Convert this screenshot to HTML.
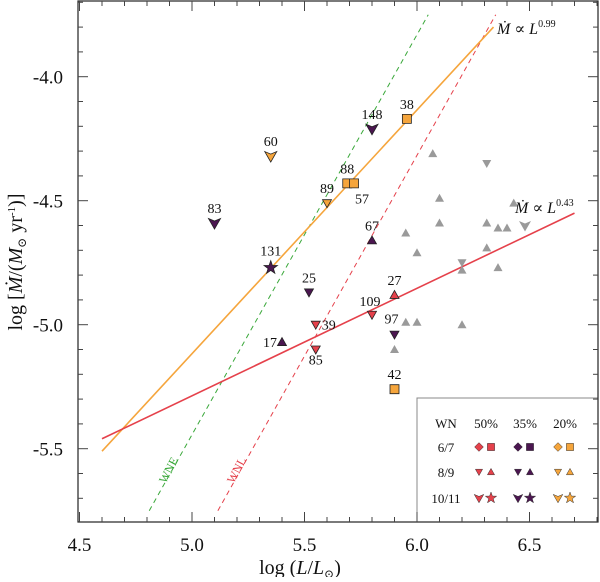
<!DOCTYPE html>
<html><head><meta charset="utf-8"><style>
body{margin:0;background:#fff}
svg text{font-family:"Liberation Serif","DejaVu Serif",serif;fill:#111}
</style></head><body>
<svg id="chart" width="600" height="577" viewBox="0 0 600 577" xmlns="http://www.w3.org/2000/svg" font-family="Liberation Serif, DejaVu Serif, serif"></svg>
<script>
const xTicks=[4.5,5.0,5.5,6.0,6.5];
const yTicks=[-4.0,-4.5,-5.0,-5.5];
const xTickLabels=["4.5","5.0","5.5","6.0","6.5"];
const yTickLabels=["-4.0","-4.5","-5.0","-5.5"];
const starIds=["60","83","131","148","38","88","57","89","67","25","27","109","39","85","97","42","17"];
const starL=[5.35,5.10,5.35,5.80,5.955,5.69,5.72,5.60,5.80,5.52,5.90,5.80,5.55,5.55,5.90,5.90,5.40];
const starM=[-4.32,-4.59,-4.77,-4.21,-4.17,-4.43,-4.43,-4.51,-4.66,-4.87,-4.88,-4.96,-5.00,-5.10,-5.04,-5.26,-5.07];
const starGroup=["o","p","p","p","o","o","o","o","p","p","r","r","r","r","p","o","p"];
const starShape=["arrow","arrow","star","arrow","square","square","square","down","up","down","up","down","down","down","down","square","up"];
const grayUpL=[6.07,6.10,6.10,5.95,6.00,6.31,6.31,6.36,6.40,6.43,6.36,6.20,5.95,6.00,6.20,5.90];
const grayUpM=[-4.31,-4.49,-4.59,-4.63,-4.71,-4.69,-4.59,-4.61,-4.61,-4.51,-4.77,-4.78,-4.99,-4.99,-5.00,-5.10];
const grayDownL=[6.31,6.20];
const grayDownM=[-4.35,-4.75];
const grayArrowL=[6.48];
const grayArrowM=[-4.60];
const fit099=[[4.6,-5.51],[6.34,-3.80]];
const fit043=[[4.6,-5.46],[6.70,-4.55]];
const wneLine=[[4.81,-5.75],[6.05,-3.75]];
const wnlLine=[[5.115,-5.75],[6.35,-3.75]];

const X0=78,X1=598,Y0=1,Y1=522;
const xs=v=>192+(v-5)*225;
const ys=v=>76.7+(-4-v)*248;
const col={r:"#e5414b",p:"#4b1650",o:"#f5a53c",g:"#9a9a9a"};
const NS="http://www.w3.org/2000/svg";
const svg=document.getElementById('chart');
function mk(tag,attrs,parent){const e=document.createElementNS(NS,tag);for(const k in attrs)e.setAttribute(k,attrs[k]);(parent||svg).appendChild(e);return e;}
function shapePath(s,sz){
  const k=sz||1;
  if(s==="down")return `M${-4.5*k},${-3.5*k} L${4.5*k},${-3.5*k} L0,${4.5*k} Z`;
  if(s==="up")return `M${-4.5*k},${3.5*k} L${4.5*k},${3.5*k} L0,${-4.5*k} Z`;
  if(s==="arrow")return `M${-6*k},${-4.5*k} L0,${-2*k} L${6*k},${-4.5*k} L0,${6*k} Z`;
  if(s==="square")return `M${-4.5*k},${-4.5*k} H${4.5*k} V${4.5*k} H${-4.5*k} Z`;
  if(s==="diamond")return `M0,${-5.5*k} L${5.5*k},0 L0,${5.5*k} L${-5.5*k},0 Z`;
  if(s==="star"){let p="";for(let i=0;i<10;i++){const r=(i%2?2.8:7*k/k)*k,a=-Math.PI/2+i*Math.PI/5;p+=(i?"L":"M")+(r*Math.cos(a)).toFixed(2)+","+(r*Math.sin(a)).toFixed(2);}return p+"Z";}
}
const gl=mk('g',{});


function ln(pts,color,dash,name){const l=mk('line',{x1:xs(pts[0][0]),y1:ys(pts[0][1]),x2:xs(pts[1][0]),y2:ys(pts[1][1]),stroke:color,'stroke-width':dash?1:1.6,'stroke-dasharray':dash?"5,4":"none"},gl);

}
ln(wneLine,"#3aa83a",true,"wne-line");
ln(wnlLine,"#e5414b",true,"wnl-line");
ln(fit099,"#f5a53c",false,"fit-line-099");
ln(fit043,"#e5414b",false,"fit-line-043");
function pt(L,M,shape,fill,stroke,name,sz){const p=mk('path',{d:shapePath(shape,sz),transform:`translate(${xs(L)},${ys(M)})`,fill:fill,stroke:stroke,'stroke-width':0.8});

return p;}
grayUpL.forEach((L,i)=>pt(L,grayUpM[i],"up",col.g,"none","gray-point-up"));
grayDownL.forEach((L,i)=>pt(L,grayDownM[i],"down",col.g,"none","gray-point-down"));
grayArrowL.forEach((L,i)=>pt(L,grayArrowM[i],"arrow",col.g,"none","gray-point-arrow"));
const labelOff={"57":[8,20],"85":[0,15],"39":[13,5],"17":[-12,5],"109":[-2,-9],"97":[-3,-11],"60":[0,-10],"83":[0,-10],"131":[0,-12]};
starIds.forEach((id,i)=>{
  const x=xs(starL[i]),y=ys(starM[i]);
  pt(starL[i],starM[i],starShape[i],col[starGroup[i]],"#222","wr-star-"+id);
  const o=labelOff[id]||[0,-10];
  const t=mk('text',{x:x+o[0],y:y+o[1],'text-anchor':'middle','font-size':14});
  t.textContent=id;
  
  
});
function txt(x,y,s,fs,name,extra){const t=mk('text',Object.assign({x:x,y:y,'font-size':fs},extra||{}));t.innerHTML=s;

return t;}
txt(497,34,'<tspan font-style="italic">Ṁ</tspan> ∝ <tspan font-style="italic">L</tspan><tspan font-size="10" dy="-7">0.99</tspan>',16,'annotation-099');
txt(515,213,'<tspan font-style="italic">Ṁ</tspan> ∝ <tspan font-style="italic">L</tspan><tspan font-size="10" dy="-7">0.43</tspan>',16,'annotation-043');
txt(172,472,'WNE',12,'wne-label',{'text-anchor':'middle',transform:'rotate(-62 172 472)',style:'fill:#3aa83a'});
txt(240,472,'WNL',12,'wnl-label',{'text-anchor':'middle',transform:'rotate(-62 240 472)',style:'fill:#e5414b'});
const lg=mk('g',{});


mk('rect',{x:417,y:398,width:181,height:124,fill:'#fff',stroke:'#888','stroke-width':1},lg);
const lgCols=["50%","35%","20%"],lgColX=[486,525,565],lgGroups=["r","p","o"];
const lgRows=["6/7","8/9","10/11"],lgRowY=[447,472,498];
const lgShapes=[["diamond","square"],["down","up"],["arrow","star"]];
const t0=mk('text',{x:446,y:428,'text-anchor':'middle','font-size':13},lg);t0.textContent="WN";
lgCols.forEach((c,i)=>{const t=mk('text',{x:lgColX[i],y:428,'text-anchor':'middle','font-size':13},lg);t.textContent=c;});
lgRows.forEach((r,j)=>{const t=mk('text',{x:446,y:lgRowY[j]+5,'text-anchor':'middle','font-size':13},lg);t.textContent=r;
  lgGroups.forEach((g,i)=>{lgShapes[j].forEach((s,k)=>{mk('path',{d:shapePath(s,s==="star"?0.85:0.8),transform:`translate(${lgColX[i]-7+k*12},${lgRowY[j]})`,fill:col[g],stroke:'#333','stroke-width':0.5},lg);});});
});
const ax=mk('g',{});


mk('rect',{x:X0,y:Y0,width:X1-X0,height:Y1-Y0,fill:'none',stroke:'#222','stroke-width':1.2},ax);
for(let v=4.5;v<=6.81;v+=0.1){const x=xs(v);const major=Math.abs(v*2-Math.round(v*2))<1e-6;const L=major?10:5;
  if(x<X0+1||x>X1-1)continue;
  mk('line',{x1:x,y1:Y1,x2:x,y2:Y1-L,stroke:'#444'},ax);mk('line',{x1:x,y1:Y0,x2:x,y2:Y0+L,stroke:'#444'},ax);}
for(let v=-5.8;v<=-3.69;v+=0.1){const y=ys(v);const major=Math.abs(v*2-Math.round(v*2))<1e-6;const L=major?10:5;
  if(y<Y0+1||y>Y1-1)continue;
  mk('line',{x1:X0,y1:y,x2:X0+L,y2:y,stroke:'#444'},ax);mk('line',{x1:X1,y1:y,x2:X1-L,y2:y,stroke:'#444'},ax);}
xTicks.forEach((v,i)=>{const t=mk('text',{x:xs(v),y:551,'text-anchor':'middle','font-size':19},ax);t.textContent=xTickLabels[i];});
yTicks.forEach((v,i)=>{const t=mk('text',{x:63,y:ys(v)+7,'text-anchor':'end','font-size':19},ax);t.textContent=yTickLabels[i];});
txt(300,574,'log (<tspan font-style="italic">L</tspan>/<tspan font-style="italic">L</tspan><tspan font-size="12" dy="4">⊙</tspan><tspan dy="-4">)</tspan>',20,'x-axis-title',{'text-anchor':'middle'});
txt(22,262,'log [<tspan font-style="italic">Ṁ</tspan>/(<tspan font-style="italic">M</tspan><tspan font-size="12" dy="4">⊙</tspan><tspan dy="-4"> yr</tspan><tspan font-size="11" dy="-7">-1</tspan><tspan dy="7">)]</tspan>',20,'y-axis-title',{'text-anchor':'middle',transform:'rotate(-90 22 262)'});
</script>
</body></html>
